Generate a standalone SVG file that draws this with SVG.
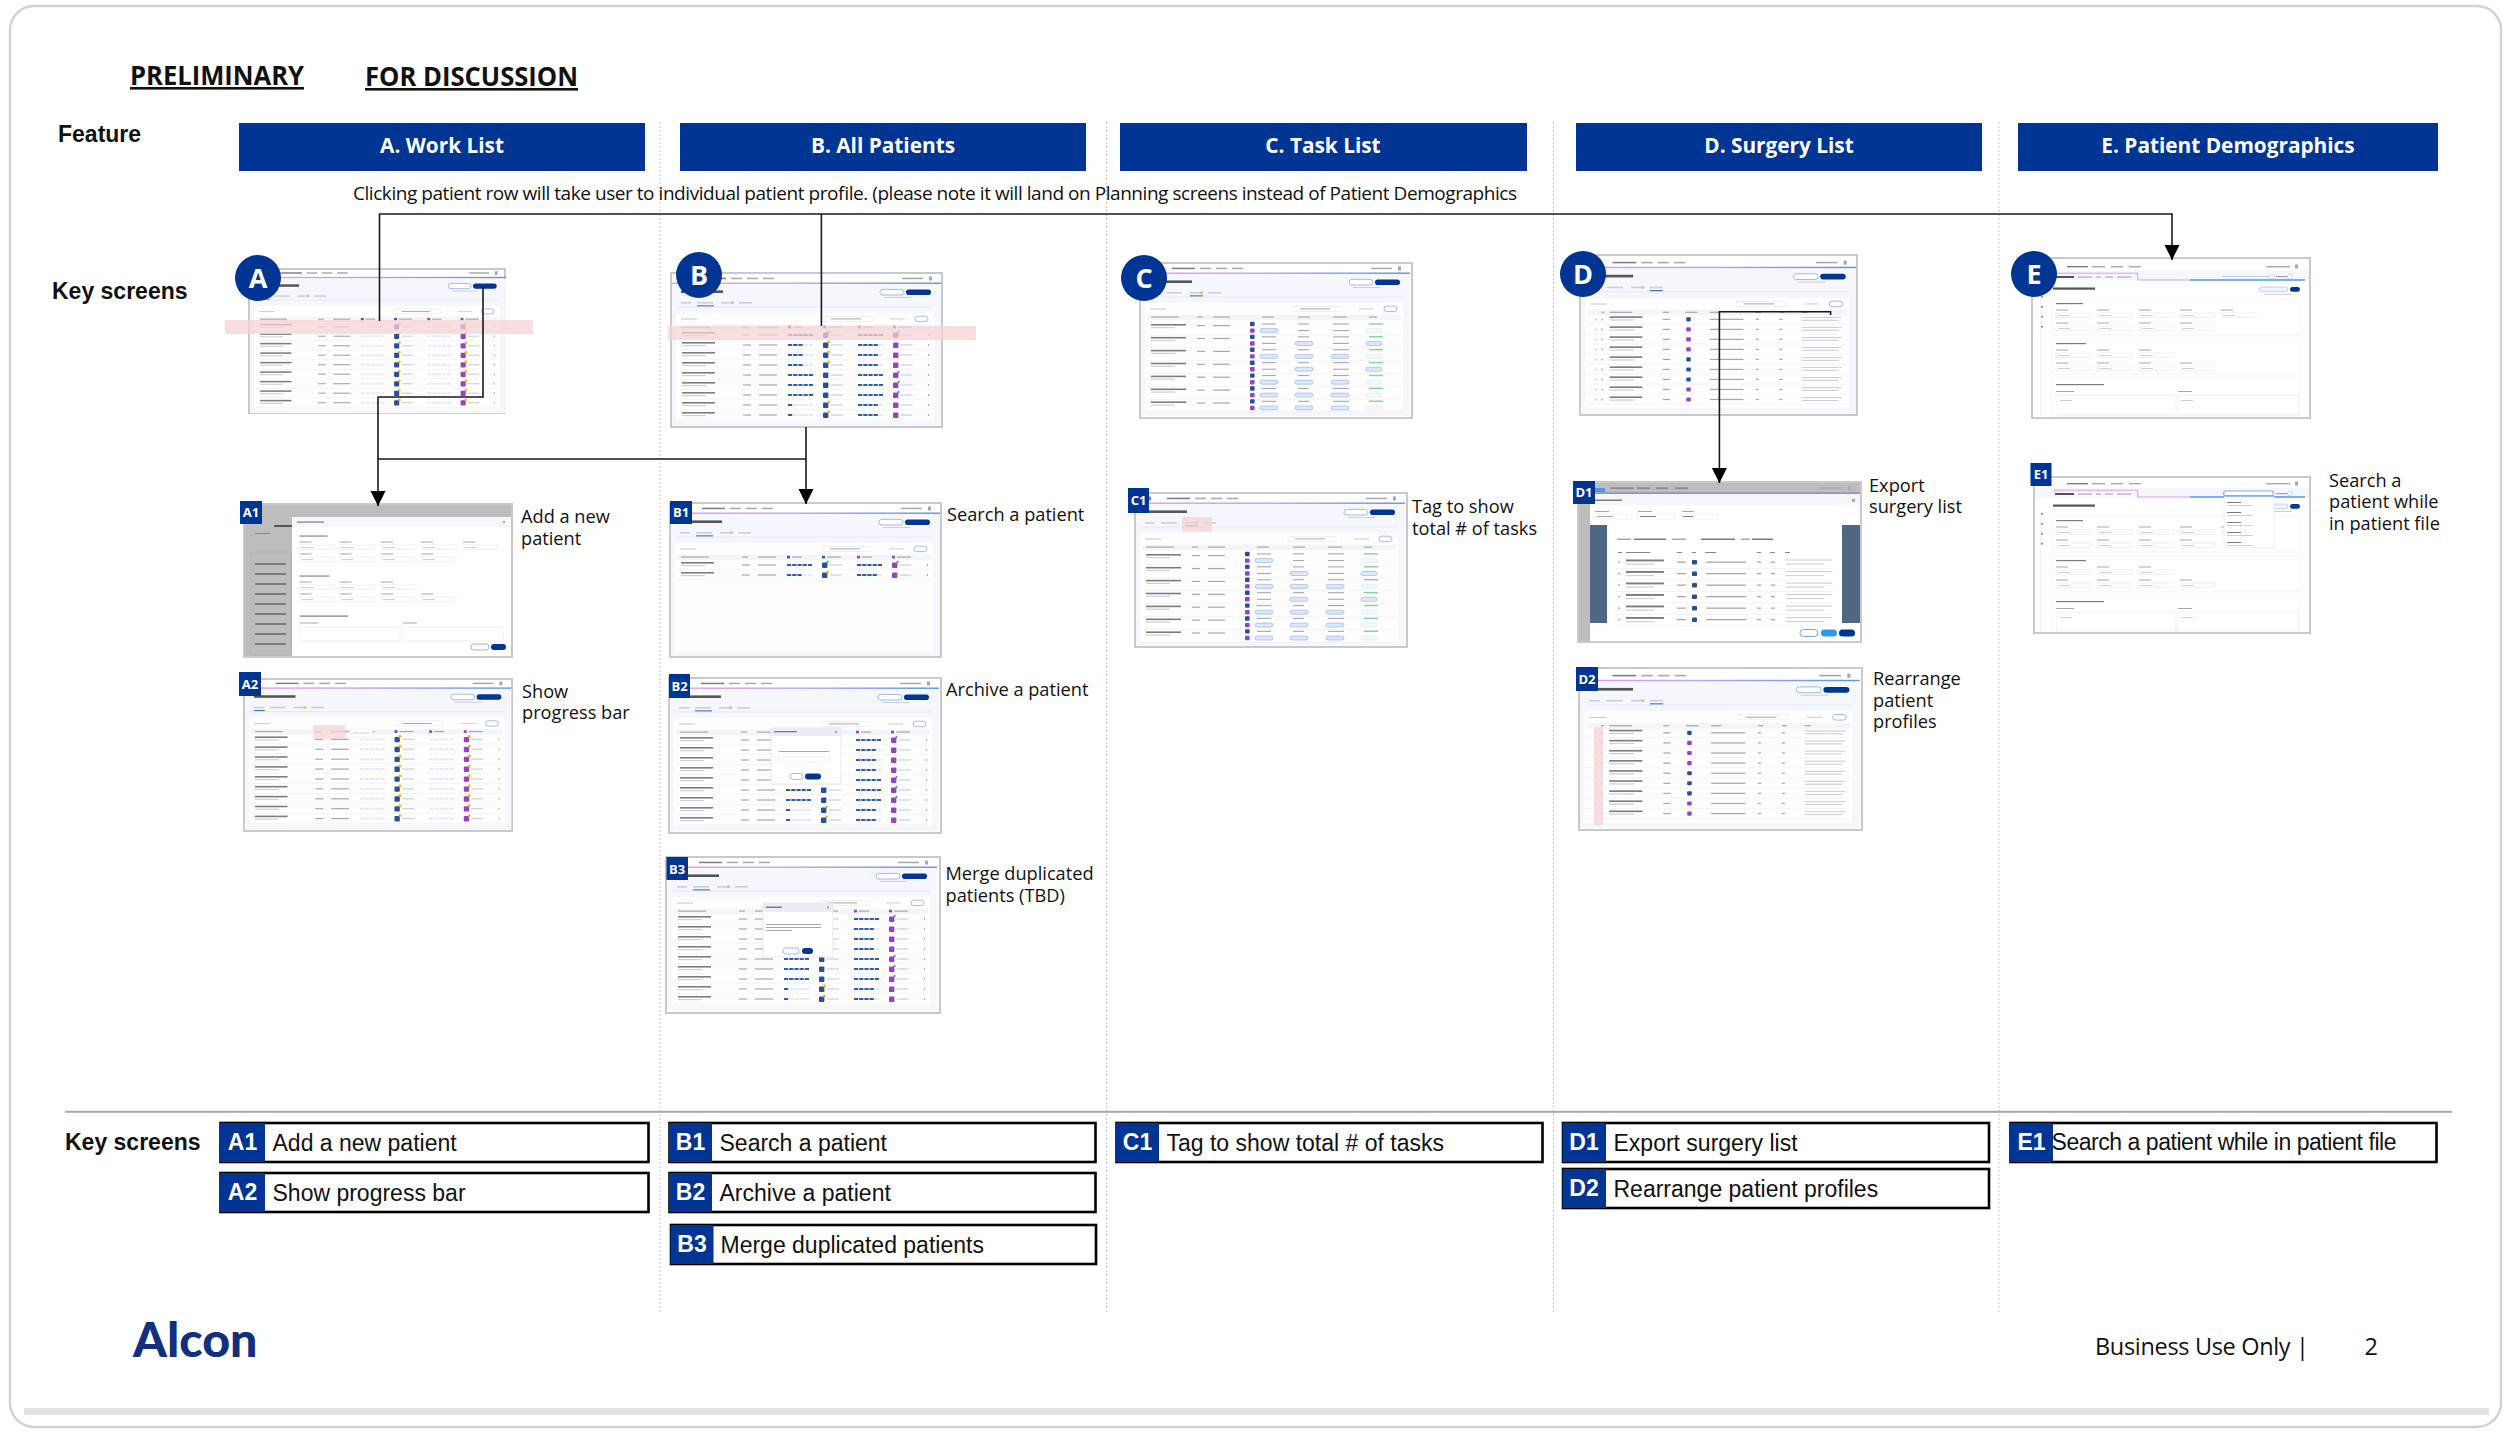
<svg xmlns="http://www.w3.org/2000/svg" xmlns:xlink="http://www.w3.org/1999/xlink" width="2509" height="1439" viewBox="0 0 2509 1439">
<style>
text{font-family:"Open Sans","Liberation Sans",sans-serif;fill:#111}
.b{font-weight:700}
.ar{font-family:"Liberation Sans",Arial,sans-serif}
.hd{font-weight:700;font-size:20.8px;fill:#fff;text-anchor:middle}
.lab{font-size:18.2px}
.circ{font-weight:700;font-size:27px;fill:#fff;text-anchor:middle}
.tag{font-weight:700;font-size:13px;fill:#fff;text-anchor:middle}
.kt{font-family:"Liberation Sans",Arial,sans-serif;font-size:23px}
.kb{font-family:"Liberation Sans",Arial,sans-serif;font-size:23px;font-weight:700;fill:#fff;text-anchor:middle}
.navy{fill:#003594}
.fr{fill:#fff;stroke:#c9c9c9;stroke-width:2}
.fo{fill:none;stroke:#c9c9c9;stroke-width:2}
.ti{fill:#555}
.dk{fill:#7d7d80}.md{fill:#a8a8ac}.lt{fill:#cdd0d9}.sp{fill:#eef1f7}
.inp{fill:#fff;stroke:#e3e7f0;stroke-width:.6}
.d1{fill:none;stroke:#2f5cb2;stroke-width:2;stroke-dasharray:4.2 1}
.d0{fill:none;stroke:#e4e9f5;stroke-width:2;stroke-dasharray:4.2 1}
.pill{fill:#dce7fb;stroke:#7c9fe0;stroke-width:.5}
.pl{fill:#f4f7fc;stroke:#d5dff2;stroke-width:.5}
.act{fill:#4472c4}
.ln{fill:none;stroke:#1a1a1a;stroke-width:1.6}
.key{fill:#fff;stroke:#000;stroke-width:2.6}
.red{fill:#f6d3d3}
.ds{stroke:#c8c8c8;stroke-width:1;stroke-dasharray:2 2;fill:none}
</style>
<defs>
<filter id="bl" x="-2%" y="-2%" width="104%" height="104%"><feGaussianBlur stdDeviation="0.35"/></filter>
<linearGradient id="gr"><stop offset="0" stop-color="#e39ce8"/><stop offset=".45" stop-color="#b7a6ee"/><stop offset="1" stop-color="#5a93e2"/></linearGradient>
<marker id="ah" markerUnits="userSpaceOnUse" markerWidth="16" markerHeight="16" refX="15" refY="7.5" orient="auto"><path d="M0 0L15 7.5L0 15z" fill="#000"/></marker>

<g id="chrome">
<rect x="1" y="11" width="269" height="142" fill="#f5f7fd"/>
<rect x="6" y="3.5" width="10" height="4" fill="#5b8fe0"/>
<rect class="dk" x="32" y="4.7" width="23" height="1.5"/><rect class="md" x="60" y="4.7" width="11" height="1.5"/><rect class="md" x="76" y="4.7" width="11" height="1.5"/><rect class="md" x="92" y="4.7" width="11" height="1.5"/>
<rect class="md" x="231" y="4.7" width="21" height="1.5"/><rect class="md" x="258" y="3.5" width="3" height="4"/>
<rect x="1" y="9.5" width="269" height="1.4" fill="url(#gr)"/>
<rect class="ti" x="10" y="17.4" width="42" height="2.600"/>
<rect x="209" y="16.4" width="24" height="5.6" rx="2.8" fill="#fff" stroke="#7c9fe0" stroke-width=".7"/>
<rect class="navy" x="235" y="16.4" width="25" height="5.6" rx="2.8"/>
<rect class="lt" x="213" y="24" width="27" height="1"/>
<rect class="lt" x="10" y="29" width="10" height="1.6"/><rect class="lt" x="26" y="29" width="16" height="1.6"/><rect class="lt" x="50" y="29" width="10" height="1.6"/><rect x="60" y="28.4" width="3" height="2.6" fill="#f3b98a"/><rect class="lt" x="68" y="29" width="13" height="1.6"/>
<rect x="6" y="33.6" width="257" height=".8" fill="#dfe6f4"/>
<rect x="5" y="40" width="258" height="108" fill="#fff" opacity=".85"/>
<rect class="lt" x="10" y="45.4" width="16" height="1.2"/>
<rect class="inp" x="153" y="43.4" width="48" height="5"/><rect class="md" x="160" y="45.4" width="30" height="1"/>
<rect class="lt" x="219" y="45.4" width="15" height="1"/>
<rect x="244" y="43.2" width="13" height="5.4" rx="2.7" fill="#fff" stroke="#7c9fe0" stroke-width=".7"/>
<rect x="7" y="51.5" width="254" height="5.5" fill="#f3f5fb"/>
</g>

<g id="hd"><rect class="md" x="11" y="53.5" width="28" height="1.2"/><rect class="md" x="72" y="53.5" width="6" height="1.2"/><rect class="md" x="88" y="53.5" width="18" height="1.2"/><rect x="117" y="52.8" width="3" height="2.6" fill="#2f5cb2"/><rect class="md" x="122" y="53.5" width="10" height="1.2"/><rect x="152" y="52.8" width="3" height="2.6" fill="#2f5cb2"/><rect class="md" x="157" y="53.5" width="14" height="1.2"/><rect x="187" y="52.8" width="3" height="2.6" fill="#9b3fc4"/><rect class="md" x="192" y="53.5" width="10" height="1.2"/><rect x="222" y="52.8" width="3" height="2.6" fill="#9b3fc4"/><rect class="md" x="227" y="53.5" width="14" height="1.2"/></g>

<g id="rb"><rect class="dk" x="11" y="-3" width="33" height="1.6"/><rect class="lt" x="11" y="0" width="24" height="1.2"/><rect class="md" x="72" y="-.6" width="8" height="1.2"/><rect class="md" x="88" y="-.6" width="18" height="1.2"/><rect class="md" x="257" y="-1" width="1" height="2"/><rect class="sp" x="7" y="4.4" width="254" height=".7"/></g>
<g id="ib"><rect x="152" y="-2.5" width="5.4" height="5.4" rx="1" fill="#27509f"/><rect class="lt" x="160" y="-.6" width="12" height="1.2"/></g>
<g id="ip"><rect x="222" y="-2.5" width="5.4" height="5.4" rx="1" fill="#9b3fc4"/><rect class="lt" x="229.500" y="-.6" width="12" height="1.2"/></g>
<circle id="yw" cx="157.500" cy="-3" r="1.5" fill="#f2b714"/>
<circle id="yp" cx="227.500" cy="-3" r="1.5" fill="#f2b714"/>
<circle id="gb" cx="157.500" cy="-3" r="1.2" fill="#3db39e"/>
<circle id="gp" cx="227.500" cy="-3" r="1.2" fill="#3db39e"/>

<g id="r-f"><use href="#rb"/><path class="d1" d="M117 0H142"/><use href="#ib"/><path class="d1" d="M187 0H212"/><use href="#ip"/><use href="#gp"/></g>
<g id="r-c"><use href="#r-f"/><use href="#gb"/></g>
<g id="r-3"><use href="#rb"/><path class="d0" d="M117 0H142"/><path class="d1" d="M117 0H132"/><use href="#ib"/><use href="#yw"/><path class="d0" d="M187 0H212"/><path class="d1" d="M187 0H207"/><use href="#ip"/></g>
<g id="r-1"><use href="#rb"/><path class="d0" d="M117 0H142"/><path class="d1" d="M117 0H121.200"/><use href="#ib"/><use href="#yw"/><path class="d0" d="M187 0H212"/><path class="d1" d="M187 0H207"/><use href="#ip"/></g>
<g id="r-w"><use href="#rb"/><path class="d0" d="M117 0H142"/><use href="#ib"/><use href="#yw"/><path class="d0" d="M187 0H212"/><use href="#ip"/><use href="#yp"/></g>

<g id="t-all"><use href="#hd"/><use href="#r-c" y="62"/><use href="#r-3" y="72"/><use href="#r-3" y="82"/><use href="#r-3" y="92"/><use href="#r-f" y="102"/><use href="#r-f" y="112"/><use href="#r-f" y="122"/><use href="#r-1" y="132"/><use href="#r-1" y="142"/></g>
<g id="t-work"><use href="#hd"/><use href="#r-w" y="62"/><use href="#r-w" y="72"/><use href="#r-w" y="82"/><use href="#r-w" y="92"/><use href="#r-w" y="102"/><use href="#r-w" y="112"/><use href="#r-w" y="122"/><use href="#r-w" y="132"/><use href="#r-w" y="142"/></g>

<g id="tb"><rect class="dk" x="11" y="0" width="35" height="1.6"/><rect class="lt" x="11" y="3" width="24" height="1.2"/><rect class="md" x="57" y="1" width="8" height="1.2"/><rect class="md" x="73" y="1" width="17" height="1.2"/>
<rect x="110" y="-2.200" width="4.600" height="4.400" rx="1" fill="#27509f"/><rect x="110" y="4.400" width="4.600" height="4.400" rx="1" fill="#9b3fc4"/>
<rect class="md" x="122" y="-.6" width="14" height="1.1"/><rect class="md" x="158" y="-.6" width="11" height="1.1"/><rect class="md" x="193" y="-.6" width="16" height="1.1"/><rect x="229" y="-.8" width="14" height="1.4" fill="#7fd39a"/>
<rect class="sp" x="7" y="10.5" width="254" height=".7"/></g>
<g id="p2a"><rect class="pill" x="120" y="4.600" width="18" height="4" rx="2"/></g><g id="p2n"><rect class="md" x="122" y="6" width="14" height="1.1"/></g>
<g id="p3a"><rect class="pill" x="155" y="4.600" width="18" height="4" rx="2"/></g><g id="p3n"><rect class="md" x="158" y="6" width="11" height="1.1"/></g>
<g id="p4a"><rect class="pill" x="191" y="4.600" width="18" height="4" rx="2"/></g><g id="p4n"><rect class="md" x="193" y="6" width="16" height="1.1"/></g>
<g id="p5a"><rect class="pill" x="226" y="4.600" width="16" height="4" rx="2"/></g><g id="p5l"><rect class="pl" x="226" y="4.600" width="16" height="4" rx="2"/></g>
<g id="ta"><use href="#tb"/><use href="#p2a"/><use href="#p3n"/><use href="#p4n"/><use href="#p5l"/></g>
<g id="tc"><use href="#tb"/><use href="#p2n"/><use href="#p3a"/><use href="#p4n"/><use href="#p5a"/></g>
<g id="td"><use href="#tb"/><use href="#p2a"/><use href="#p3a"/><use href="#p4a"/><use href="#p5l"/></g>
<g id="t-task"><rect class="md" x="11" y="53.5" width="28" height="1.2"/><rect class="md" x="57" y="53.5" width="6" height="1.2"/><rect class="md" x="73" y="53.5" width="17" height="1.2"/><rect class="md" x="122" y="53.5" width="12" height="1.2"/><rect class="md" x="158" y="53.5" width="12" height="1.2"/><rect class="md" x="193" y="53.5" width="14" height="1.2"/><rect class="md" x="229" y="53.5" width="8" height="1.2"/>
<use href="#ta" y="61"/><use href="#tc" y="73.900"/><use href="#td" y="86.800"/><use href="#tc" y="99.700"/><use href="#td" y="112.600"/><use href="#td" y="125.500"/><use href="#td" y="138.400"/></g>

<g id="sb"><rect class="lt" x="15" y="-.7" width="2" height="1.6"/><rect class="md" x="21" y="-.7" width="1.400" height="1.6"/><rect class="dk" x="29" y="-3" width="32" height="1.6"/><rect class="lt" x="29" y="0" width="24" height="1.2"/><rect class="md" x="81" y="-.6" width="7" height="1.2"/><rect class="md" x="127" y="-.6" width="33" height="1.2"/><rect class="md" x="172" y="-.6" width="3" height="1.2"/><rect class="md" x="195" y="-.6" width="3" height="1.2"/><rect class="lt" x="217" y="-2.400" width="39" height="1.1"/><rect class="lt" x="217" y=".4" width="36" height="1.1"/><rect class="sp" x="7" y="4.2" width="254" height=".7"/></g>
<rect id="sB" x="104" y="-2" width="4.400" height="4" rx="1" fill="#27509f"/><rect id="sP" x="104" y="-2" width="4.400" height="4" rx="1" fill="#9b3fc4"/>
<g id="t-sur"><rect class="md" x="21" y="53.5" width="3" height="1.2"/><rect class="md" x="29" y="53.5" width="22" height="1.2"/><rect class="md" x="81" y="53.5" width="6" height="1.2"/><rect class="md" x="103" y="53.5" width="12" height="1.2"/><rect class="md" x="127" y="53.5" width="10" height="1.2"/><rect class="md" x="172" y="53.5" width="5" height="1.2"/><rect class="md" x="195" y="53.5" width="5" height="1.2"/><rect class="md" x="217" y="53.5" width="6" height="1.2"/>
<g id="sr"><use href="#sb" y="61"/><use href="#sB" y="61"/><use href="#sb" y="70.800"/><use href="#sP" y="70.800"/><use href="#sb" y="80.600"/><use href="#sP" y="80.600"/><use href="#sb" y="90.400"/><use href="#sP" y="90.400"/><use href="#sb" y="100.200"/><use href="#sB" y="100.200"/><use href="#sb" y="110"/><use href="#sB" y="110"/><use href="#sb" y="119.800"/><use href="#sB" y="119.800"/><use href="#sb" y="129.600"/><use href="#sP" y="129.600"/><use href="#sb" y="139.400"/><use href="#sP" y="139.400"/></g></g>

<g id="fgrp"><rect class="md" x="0" y="0" width="12" height="1"/><rect class="inp" x="0" y="3.500" width="35" height="4.500"/><rect class="lt" x="2" y="5.500" width="12" height="1"/></g>
<g id="demo">
<rect x="1" y="11" width="276" height="148" fill="#fff"/><rect x="1" y="13" width="276" height="9" fill="#f5f7fd"/>
<rect x="6" y="5" width="10" height="4" fill="#5b8fe0"/>
<rect class="dk" x="35" y="8" width="21" height="1.4"/><rect class="md" x="60" y="8" width="13" height="1.4"/><rect class="md" x="79" y="8" width="12" height="1.4"/><rect class="md" x="97" y="8" width="12" height="1.4"/><rect class="md" x="234" y="8" width="24" height="1.4"/><rect class="md" x="263" y="6.500" width="3" height="4"/>
<path d="M22 15.200H105.700V22H158" fill="none" stroke="#e39ce8" stroke-width="1.100"/><path d="M158 22H273" fill="none" stroke="#5a93e2" stroke-width="1.300"/>
<rect class="ti" x="23" y="18" width="19" height="2"/><rect class="md" x="46" y="18.500" width="14" height="1.100"/><rect class="md" x="64" y="18.500" width="5" height="1.100"/><rect class="md" x="73" y="18.500" width="8" height="1.100"/><rect class="md" x="85" y="18.500" width="14" height="1.100"/>
<rect class="lt" x="190" y="18" width="48" height="1.200"/><circle cx="240" cy="18.500" r="2.500" fill="#fff" stroke="#a9c0ea" stroke-width=".6"/><rect class="md" x="244" y="18" width="12" height="1.200"/><circle cx="258" cy="18.500" r="2.500" fill="#fff" stroke="#a9c0ea" stroke-width=".6"/>
<rect class="ti" x="21" y="29.500" width="42" height="2.200"/>
<rect x="227" y="29" width="29" height="4.800" rx="2.400" fill="#eef3fc" stroke="#a9c0ea" stroke-width=".7"/><rect class="navy" x="258" y="29" width="10" height="4.800" rx="2.400"/><rect class="lt" x="232" y="36" width="28" height="1"/>
<rect x="8" y="36" width="1" height="122" fill="#eef1f7"/>
<circle cx="10" cy="38.700" r="1" fill="#5a7fd0"/><circle cx="10" cy="48.700" r="1" fill="#5a7fd0"/><circle cx="10" cy="58.700" r="1" fill="#5a7fd0"/><circle cx="10" cy="68.700" r="1" fill="#5a7fd0"/>
<rect x="20" y="41" width="248" height="36" fill="#fff" stroke="#eef1f7" stroke-width=".7"/><rect x="20" y="81" width="248" height="35" fill="#fff" stroke="#eef1f7" stroke-width=".7"/><rect x="20" y="120" width="248" height="38" fill="#fff" stroke="#eef1f7" stroke-width=".7"/>
<rect class="dk" x="24" y="45" width="27" height="1.200"/><rect class="dk" x="24" y="85" width="30" height="1.200"/><rect class="dk" x="24" y="126" width="48" height="1.200"/>
<use href="#fgrp" x="24" y="51.500"/><use href="#fgrp" x="65" y="51.500"/><use href="#fgrp" x="107" y="51.500"/><use href="#fgrp" x="148" y="51.500"/><use href="#fgrp" x="189" y="51.500"/>
<use href="#fgrp" x="24" y="64.500"/><use href="#fgrp" x="65" y="64.500"/><use href="#fgrp" x="107" y="64.500"/><use href="#fgrp" x="148" y="64.500"/>
<use href="#fgrp" x="24" y="91.500"/><use href="#fgrp" x="65" y="91.500"/><use href="#fgrp" x="107" y="91.500"/>
<use href="#fgrp" x="24" y="104.500"/><use href="#fgrp" x="65" y="104.500"/><use href="#fgrp" x="107" y="104.500"/><use href="#fgrp" x="148" y="104.500"/>
<rect class="md" x="24" y="133" width="18" height="1"/><rect class="md" x="146" y="133" width="14" height="1"/><rect class="inp" x="24" y="137" width="120" height="20"/><rect class="inp" x="146" y="137" width="120" height="20"/><rect class="lt" x="28" y="142" width="12" height="1"/><rect class="lt" x="149" y="142" width="12" height="1"/>
</g>
</defs>

<rect width="2509" height="1439" fill="#fff"/>
<rect x="10" y="6" width="2491" height="1421" rx="24" fill="#fff" stroke="#d2d2d2" stroke-width="2.400"/>
<rect x="24" y="1408" width="2465" height="7" fill="#e3e3e3"/>

<g id="dividers">
<path class="ds" d="M660 122V1313M1106.500 122V1313M1553.500 122V1313M1999 122V1313"/>
<rect x="65" y="1110.800" width="2387" height="2" fill="#a8a8a8"/>
</g>

<g id="title">
<text class="b" x="130" y="85" font-size="26" text-decoration="underline" textLength="174" lengthAdjust="spacingAndGlyphs">PRELIMINARY</text>
<text class="b" x="365" y="86" font-size="26" text-decoration="underline" textLength="213" lengthAdjust="spacingAndGlyphs">FOR DISCUSSION</text>
<text class="ar b" x="58" y="142" font-size="23">Feature</text>
<text class="ar b" x="52" y="299" font-size="23">Key screens</text>
</g>

<g id="features">
<g id="f-a"><rect class="navy" x="239" y="123" width="406" height="48"/><text class="hd" x="442" y="153">A. Work List</text></g>
<g id="f-b"><rect class="navy" x="680" y="123" width="406" height="48"/><text class="hd" x="883" y="153">B. All Patients</text></g>
<g id="f-c"><rect class="navy" x="1120" y="123" width="407" height="48"/><text class="hd" x="1323" y="153">C. Task List</text></g>
<g id="f-d"><rect class="navy" x="1576" y="123" width="406" height="48"/><text class="hd" x="1779" y="153">D. Surgery List</text></g>
<g id="f-e"><rect class="navy" x="2018" y="123" width="420" height="48"/><text class="hd" x="2228" y="153">E. Patient Demographics</text></g>
</g>
<text id="note" x="353" y="200" font-size="19" textLength="1164">Clicking patient row will take user to individual patient profile. (please note it will land on Planning screens instead of Patient Demographics</text>

<!-- screens -->
<g id="scr-a">
<rect class="fr" x="249" y="269" width="256" height="144"/>
<g filter="url(#bl)" transform="translate(249.700 267.800) scale(.95)"><use href="#chrome"/><use href="#t-work"/><rect class="act" x="10" y="32.300" width="11" height="1.100"/></g>
<rect class="red" x="225" y="320" width="308" height="14" opacity=".75"/>
<ellipse class="navy" cx="258" cy="278" rx="23" ry="23"/><text class="circ" x="258" y="288">A</text>
</g>
<g id="scr-b">
<rect class="fr" x="671" y="273" width="271" height="154"/>
<g filter="url(#bl)" transform="translate(671 273)"><use href="#chrome"/><use href="#t-all"/><rect class="act" x="26" y="32.300" width="17" height="1.100"/></g>
<rect class="red" x="668" y="326" width="308" height="14" opacity=".75"/>
<circle class="navy" cx="699" cy="275" r="23"/><text class="circ" x="699" y="285">B</text>
</g>
<g id="scr-c">
<rect class="fr" x="1140" y="263" width="272" height="155"/>
<g filter="url(#bl)" transform="translate(1140 263)"><use href="#chrome"/><use href="#t-task"/><rect class="act" x="50" y="32.300" width="13" height="1.100"/></g>
<circle class="navy" cx="1144" cy="278" r="23"/><text class="circ" x="1144" y="288">C</text>
</g>
<g id="scr-d">
<rect class="fr" x="1580" y="255" width="277" height="160"/>
<g filter="url(#bl)" transform="translate(1580 257) scale(1.022)"><use href="#chrome"/><use href="#t-sur"/><rect class="act" x="68" y="32.300" width="13" height="1.100"/></g>
<circle class="navy" cx="1583" cy="274" r="23"/><text class="circ" x="1583" y="284">D</text>
</g>
<g id="scr-e">
<rect class="fr" x="2032" y="258" width="278" height="160"/>
<g filter="url(#bl)" transform="translate(2032 258)"><use href="#demo"/></g>
<circle class="navy" cx="2034" cy="274" r="23"/><text class="circ" x="2034" y="284">E</text>
</g>

<g id="scr-a1">
<rect class="fr" x="244" y="504" width="268" height="153"/>
<g filter="url(#bl)">
<rect x="245" y="505" width="266" height="12" fill="#bdbdbd"/><rect x="245" y="505" width="47" height="151" fill="#bdbdbd"/>
<rect x="274" y="525" width="18" height="2" fill="#555"/><rect x="255" y="533" width="15" height="1" fill="#888"/>
<path d="M255 564H286M255 574H286M255 584H286M255 594H286M255 604H286M255 614H286M255 624H286M255 634H286M255 644H286" stroke="#666" stroke-width="1.400" fill="none"/>
<rect x="251" y="552" width="40" height="103" fill="none" stroke="#b0b0b0" stroke-width=".6"/>
<rect x="292" y="517" width="219" height="139" fill="#fff"/>
<rect x="292" y="517" width="219" height="10" fill="#f5f7fd"/><rect class="dk" x="297" y="521.500" width="27" height="1.200"/><rect class="md" x="503" y="521" width="2" height="2"/>
<rect class="dk" x="299.500" y="535.500" width="28" height="1.100"/><rect class="dk" x="299.500" y="575.500" width="30" height="1.100"/><rect class="dk" x="300" y="615.500" width="48" height="1.200"/>
<use href="#fgrp" x="299.500" y="541.500"/><use href="#fgrp" x="339.500" y="541.500"/><use href="#fgrp" x="381" y="541.500"/><use href="#fgrp" x="421" y="541.500"/><use href="#fgrp" x="463" y="541.500"/>
<use href="#fgrp" x="299.500" y="553.500"/><use href="#fgrp" x="339.500" y="553.500"/><use href="#fgrp" x="381" y="553.500"/><use href="#fgrp" x="421" y="553.500"/>
<use href="#fgrp" x="299.500" y="581.500"/><use href="#fgrp" x="339.500" y="581.500"/><use href="#fgrp" x="381" y="581.500"/>
<use href="#fgrp" x="299.500" y="593.500"/><use href="#fgrp" x="339.500" y="593.500"/><use href="#fgrp" x="381" y="593.500"/><use href="#fgrp" x="421" y="593.500"/>
<rect class="md" x="300" y="622.500" width="18" height="1"/><rect class="md" x="403" y="622.500" width="14" height="1"/>
<rect class="inp" x="300" y="627" width="100" height="14"/><rect class="inp" x="403" y="627" width="100" height="14"/>
<rect x="471" y="644" width="18" height="6" rx="3" fill="#fff" stroke="#7c9fe0" stroke-width=".8"/><rect class="navy" x="491" y="644" width="15" height="6" rx="3"/>
</g>
<rect class="navy" x="240" y="501" width="22" height="23"/><text class="tag" x="251" y="517">A1</text>
</g>
<g id="scr-a2">
<rect class="fr" x="244" y="679" width="268" height="152"/>
<g filter="url(#bl)" transform="translate(244 678) scale(.99)"><use href="#chrome"/><use href="#t-work"/><rect class="act" x="10" y="32.300" width="11" height="1.100"/></g>
<rect class="red" x="313" y="725" width="32.500" height="14" opacity=".75"/><rect x="350.500" y="729" width="22" height="8" fill="#fff" stroke="#e6e6e6" stroke-width=".5"/><rect class="lt" x="353" y="732.500" width="16" height="1"/>
<rect class="navy" x="239" y="672" width="22" height="24"/><text class="tag" x="250" y="689">A2</text>
</g>
<g id="scr-b1">
<rect class="fr" x="670" y="503" width="271" height="154"/>
<g filter="url(#bl)" transform="translate(670 503)"><use href="#chrome"/><use href="#hd"/><use href="#r-c" y="62"/><use href="#r-3" y="72"/><rect class="act" x="26" y="32.300" width="17" height="1.100"/></g>
<rect class="navy" x="670" y="501" width="22" height="23"/><text class="tag" x="681" y="517">B1</text>
</g>
<g id="scr-b2">
<rect class="fr" x="669" y="678" width="272" height="155"/>
<g filter="url(#bl)"><g transform="translate(669 678)"><use href="#chrome"/><use href="#t-all"/><rect class="act" x="26" y="32.300" width="17" height="1.100"/></g>
<rect x="771" y="728" width="70" height="56" fill="#fff" stroke="#e4e7ee" stroke-width="1"/><rect x="771" y="728" width="70" height="8" fill="#e8edf7"/><rect class="dk" x="774" y="731" width="23" height="1.300"/><rect class="md" x="835" y="731" width="2" height="2"/>
<rect class="md" x="779" y="751" width="50" height="1"/><rect class="inp" x="779" y="757" width="50" height="5"/><rect x="790" y="773.500" width="13" height="6" rx="3" fill="#fff" stroke="#7c9fe0" stroke-width=".7"/><rect class="navy" x="805" y="773.500" width="16" height="6" rx="3"/></g>
<rect class="navy" x="669" y="674" width="21" height="24"/><text class="tag" x="679.500" y="691">B2</text>
</g>
<g id="scr-b3">
<rect class="fr" x="666" y="857" width="274" height="156"/>
<g filter="url(#bl)"><g transform="translate(667 857)"><use href="#chrome"/><use href="#t-all"/><rect class="act" x="26" y="32.300" width="17" height="1.100"/></g>
<rect x="763" y="903" width="70" height="54" fill="#fff" stroke="#e4e7ee" stroke-width="1"/><rect x="763" y="903" width="70" height="9" fill="#e8edf7"/><rect class="dk" x="766" y="906.500" width="16" height="1.500"/><rect class="md" x="827" y="906.500" width="2" height="2"/>
<rect class="md" x="766" y="924" width="55" height="1"/><rect class="md" x="766" y="927" width="55" height="1"/><rect class="md" x="766" y="930" width="26" height="1"/><rect x="783" y="948" width="16" height="6" rx="3" fill="#fff" stroke="#7c9fe0" stroke-width=".7"/><rect class="navy" x="802" y="948" width="11" height="6" rx="3"/></g>
<rect class="navy" x="666.500" y="857" width="21.500" height="23"/><text class="tag" x="677" y="874">B3</text>
</g>
<g id="scr-c1">
<rect class="fr" x="1135" y="493" width="272" height="154"/>
<g filter="url(#bl)" transform="translate(1135 493)"><use href="#chrome"/><use href="#t-task"/><rect class="act" x="50" y="32.300" width="13" height="1.100"/></g>
<rect class="red" x="1182" y="517" width="30" height="15" opacity=".75"/>
<rect class="navy" x="1128" y="488" width="21" height="25"/><text class="tag" x="1138.500" y="505">C1</text>
</g>
<g id="scr-d1">
<rect class="fr" x="1578" y="482" width="283" height="160"/>
<g filter="url(#bl)">
<rect x="1579" y="483" width="281" height="11" fill="#bdbdbd"/><rect x="1579" y="483" width="11" height="158" fill="#bdbdbd"/>
<rect x="1590" y="494" width="270" height="147" fill="#fff"/><rect x="1590" y="494" width="270" height="11" fill="#f5f7fd"/>
<rect x="1595" y="488" width="10" height="4" fill="#5b8fe0"/><rect class="dk" x="1610" y="487.500" width="24" height="1.300"/><rect class="dk" x="1637" y="487.500" width="13" height="1.300"/><rect class="dk" x="1656" y="487.500" width="12" height="1.300"/><rect class="dk" x="1675" y="487.500" width="13" height="1.300"/><rect class="md" x="1820" y="487.500" width="22" height="1.300"/><rect class="md" x="1848" y="486" width="3" height="4"/>
<rect x="1580" y="492.500" width="280" height="1.200" fill="#6d8ac9"/>
<rect class="dk" x="1594" y="499.500" width="28" height="1.500"/><rect class="md" x="1852" y="499" width="3" height="3"/>
<rect class="md" x="1595" y="511" width="14" height="1"/><rect class="md" x="1638" y="511" width="14" height="1"/><rect class="md" x="1682" y="511" width="12" height="1"/>
<rect class="inp" x="1594" y="514" width="38" height="5"/><rect class="inp" x="1637" y="514" width="38" height="5"/><rect class="inp" x="1680" y="514" width="38" height="5"/><rect class="md" x="1597" y="516" width="16" height="1"/><rect class="dk" x="1640" y="516" width="16" height="1"/><rect class="dk" x="1683" y="516" width="10" height="1"/>
<rect x="1590" y="525" width="17" height="98" fill="#4f6685"/><rect x="1842" y="525" width="18" height="98" fill="#4f6685"/>
<rect class="md" x="1617" y="538.500" width="14" height="1.500"/><rect class="dk" x="1634" y="538.500" width="32" height="1.500"/><rect class="md" x="1672" y="538.500" width="14" height="1.500"/><rect class="dk" x="1701" y="538.500" width="34" height="1.500"/><rect class="md" x="1741" y="538.500" width="9" height="1.500"/><rect class="dk" x="1752" y="538.500" width="21" height="1.500"/>
<path d="M1618 552.500H1622M1626 552.500H1650M1677 552.500H1682M1692 552.500H1696M1705 552.500H1716M1757 552.500H1761M1770 552.500H1775M1785 552.500H1790" stroke="#888" stroke-width="1" fill="none"/>
<g id="dr"><g id="dr1"><rect class="md" x="1618" y="561.500" width="2" height="1.300"/><rect class="dk" x="1626" y="559.500" width="38" height="1.900"/><rect class="lt" x="1626" y="563.500" width="28" height="1.200"/><rect class="md" x="1677" y="561.500" width="9" height="1.300"/><rect x="1692" y="560" width="5" height="4.500" rx="1" fill="#27509f"/><rect class="md" x="1706" y="561.500" width="40" height="1.300"/><rect class="md" x="1757" y="561.500" width="4" height="1.300"/><rect class="md" x="1771" y="561.500" width="4" height="1.300"/><rect class="lt" x="1786" y="559.500" width="46" height="1.100"/><rect class="lt" x="1786" y="563.500" width="38" height="1.100"/><rect class="sp" x="1616" y="568" width="218" height=".8"/></g>
<use href="#dr1" y="11.500"/><use href="#dr1" y="23"/><use href="#dr1" y="34.500"/><use href="#dr1" y="46"/><use href="#dr1" y="57.500"/></g>
<rect x="1800" y="629.500" width="18" height="7" rx="3.500" fill="#fff" stroke="#6e95d8" stroke-width=".9"/><rect x="1821" y="629.500" width="16" height="7" rx="3.500" fill="#2f9be8"/><rect class="navy" x="1839" y="629.500" width="16" height="7" rx="3.500"/>
</g>
<rect class="navy" x="1573" y="481" width="22" height="23"/><text class="tag" x="1584" y="497">D1</text>
</g>
<g id="scr-d2">
<rect class="fr" x="1579" y="668" width="283" height="162"/>
<g filter="url(#bl)" transform="translate(1579 670) scale(1.040 1.030)"><use href="#chrome"/><use href="#t-sur"/><rect class="act" x="68" y="32.300" width="13" height="1.100"/></g>
<rect class="red" x="1594" y="727" width="9" height="98" opacity=".75"/>
<rect class="navy" x="1576" y="667" width="22" height="24"/><text class="tag" x="1587" y="684">D2</text>
</g>
<g id="scr-e1">
<rect class="fr" x="2034" y="477" width="276" height="156"/>
<g filter="url(#bl)"><g transform="translate(2032 475)"><use href="#demo"/></g>
<rect x="2224" y="491" width="49" height="4.500" fill="#fff" stroke="#6e95d8" stroke-width=".8"/>
<rect x="2224" y="497" width="50" height="51" fill="#fff" stroke="#dfe6f4" stroke-width=".7"/>
<g id="ddi"><rect class="dk" x="2227" y="502" width="14" height="1"/><rect class="lt" x="2227" y="505" width="26" height="1"/></g><use href="#ddi" y="10"/><use href="#ddi" y="20"/><use href="#ddi" y="30"/><use href="#ddi" y="40"/></g>
<rect x="2030" y="633.500" width="282" height="3" fill="#fff"/><rect x="2030" y="470" width="3.200" height="168" fill="#fff"/>
<rect class="fo" x="2034" y="477" width="276" height="156"/>
<rect class="navy" x="2030.500" y="463" width="21" height="23"/><text class="tag" x="2041" y="479">E1</text>
</g>

<g id="connectors">
<path class="ln" d="M379.500 321V214H2172V260" marker-end="url(#ah)"/>
<path class="ln" d="M821.400 326V214"/>
<path class="ln" d="M483 286V397H378V506" marker-end="url(#ah)"/>
<path class="ln" d="M806 427V459H378"/>
<path class="ln" d="M806 459V504" marker-end="url(#ah)"/>
<path class="ln" d="M1830.600 315V311.700H1719.400V483" marker-end="url(#ah)"/>
</g>

<g id="labels">
<text class="lab" x="521" y="523">Add a new</text><text class="lab" x="521" y="544.500">patient</text>
<text class="lab" x="522" y="698">Show</text><text class="lab" x="522" y="719">progress bar</text>
<text class="lab" x="947" y="521">Search a patient</text>
<text class="lab" x="946" y="696">Archive a patient</text>
<text class="lab" x="945.500" y="880">Merge duplicated</text><text class="lab" x="945.500" y="901.500">patients (TBD)</text>
<text class="lab" x="1412" y="513">Tag to show</text><text class="lab" x="1412" y="534.500">total # of tasks</text>
<text class="lab" x="1869" y="492">Export</text><text class="lab" x="1869" y="513">surgery list</text>
<text class="lab" x="1873" y="685">Rearrange</text><text class="lab" x="1873" y="707">patient</text><text class="lab" x="1873" y="728">profiles</text>
<text class="lab" x="2329" y="487">Search a</text><text class="lab" x="2329" y="508">patient while</text><text class="lab" x="2329" y="530">in patient file</text>
</g>

<g id="key-screens">
<text class="ar b" x="65" y="1150" font-size="23">Key screens</text>
<g id="k-a1"><rect class="key" x="220.500" y="1123" width="428" height="39"/><rect class="navy" x="220" y="1123" width="45" height="39"/><text class="kb" x="242.500" y="1150">A1</text><text class="kt" x="272.500" y="1150.500">Add a new patient</text></g>
<g id="k-a2"><rect class="key" x="220.500" y="1173" width="428" height="39"/><rect class="navy" x="220" y="1173" width="45" height="39"/><text class="kb" x="242.500" y="1200">A2</text><text class="kt" x="272.500" y="1201">Show progress bar</text></g>
<g id="k-b1"><rect class="key" x="669.500" y="1123" width="426" height="39"/><rect class="navy" x="669" y="1123" width="43" height="39"/><text class="kb" x="690.500" y="1150">B1</text><text class="kt" x="719.500" y="1150.500">Search a patient</text></g>
<g id="k-b2"><rect class="key" x="669.500" y="1173" width="426" height="39"/><rect class="navy" x="669" y="1173" width="43" height="39"/><text class="kb" x="690.500" y="1200">B2</text><text class="kt" x="719.500" y="1201">Archive a patient</text></g>
<g id="k-b3"><rect class="key" x="671" y="1225" width="425" height="39"/><rect class="navy" x="670.500" y="1225" width="43" height="39"/><text class="kb" x="692" y="1252">B3</text><text class="kt" x="720.500" y="1253">Merge duplicated patients</text></g>
<g id="k-c1"><rect class="key" x="1116.500" y="1123" width="426" height="39"/><rect class="navy" x="1116" y="1123" width="43" height="39"/><text class="kb" x="1137.500" y="1150">C1</text><text class="kt" x="1166.500" y="1150.500">Tag to show total # of tasks</text></g>
<g id="k-d1"><rect class="key" x="1563" y="1123" width="426" height="39"/><rect class="navy" x="1562.500" y="1123" width="43.500" height="39"/><text class="kb" x="1584" y="1150">D1</text><text class="kt" x="1613.500" y="1150.500">Export surgery list</text></g>
<g id="k-d2"><rect class="key" x="1563" y="1169" width="426" height="39"/><rect class="navy" x="1562.500" y="1169" width="43.500" height="39"/><text class="kb" x="1584" y="1196">D2</text><text class="kt" x="1613.500" y="1196.500">Rearrange patient profiles</text></g>
<g id="k-e1"><rect class="key" x="2010.500" y="1123" width="426" height="39"/><rect class="navy" x="2010" y="1123" width="43" height="39"/><text class="kb" x="2031.500" y="1150">E1</text><text class="kt" x="2051.500" y="1149.500" textLength="345">Search a patient while in patient file</text></g>
</g>

<g id="footer">
<text x="133" y="1357" font-size="47" font-weight="900" textLength="124.500" lengthAdjust="spacingAndGlyphs" style="font-family:Lato,'Open Sans',sans-serif;fill:#10307f">Alcon</text>
<text x="2095" y="1355" font-size="23.5" textLength="214">Business Use Only |</text>
<text x="2364.500" y="1355" font-size="23.5">2</text>
</g>
</svg>
